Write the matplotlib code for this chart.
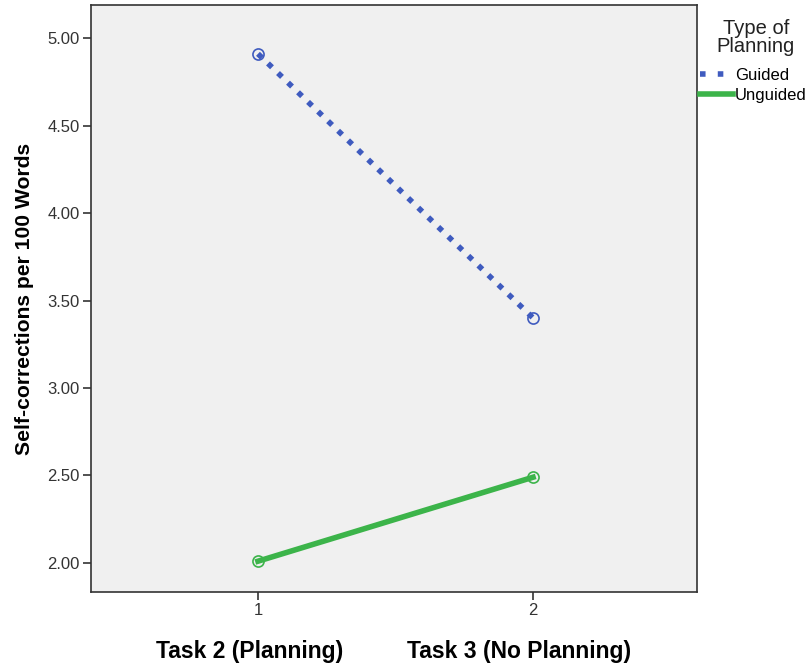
import matplotlib
matplotlib.use("Agg")
import matplotlib.pyplot as plt
from matplotlib.lines import Line2D

plt.rcParams['font.family'] = ['Liberation Sans', 'DejaVu Sans']

tasks = [1, 2]
task_tick_labels = ["1", "2"]
guided = [4.91, 3.40]
unguided = [2.01, 2.49]
y_ticks = [2.0, 2.5, 3.0, 3.5, 4.0, 4.5, 5.0]
series_names = ["Guided", "Unguided"]
legend_title = ["Type of", "Planning"]

blue = "#3f5bbf"
green = "#3cb44a"
dots = (0, (1, 1.5))

fig = plt.figure(figsize=(8.07, 6.64), dpi=100)
ax = fig.add_axes([91/807, 72/664, 606/807, 587/664])
ax.set_facecolor("#f0f0f0")

ax.plot(tasks, guided, linestyle=dots, linewidth=4, color=blue,
        marker="o", markersize=8, markerfacecolor="none", markeredgecolor=blue,
        markeredgewidth=1.2)
ax.plot(tasks, unguided, linestyle="-", linewidth=4, color=green,
        marker="o", markersize=8, markerfacecolor="none", markeredgecolor=green,
        markeredgewidth=1.2)

ax.set_xlim(0.393, 2.596)
ax.set_ylim(1.834, 5.189)
ax.set_xticks(tasks)
ax.set_xticklabels(task_tick_labels, fontsize=12)
ax.set_yticks(y_ticks)
ax.set_yticklabels([f"{v:.2f}" for v in y_ticks], fontsize=12)
ax.tick_params(axis="both", length=6, width=1.2, pad=2, color="#333333", labelcolor="#333333")
for s in ax.spines.values():
    s.set_color("#333333")
    s.set_linewidth(1.2)

ax.set_ylabel("Self-corrections per 100 Words", fontsize=15.2, fontweight="bold", labelpad=10)
ax.set_xlabel("Task 2 (Planning)          Task 3 (No Planning)", fontsize=16.5,
              fontweight="bold", labelpad=16)

# legend title (two centred lines) and entries
fig.text(756/807, 1 - 28/664, legend_title[0], ha="center", va="center",
         fontsize=14.5, color="#222222")
fig.text(756/807, 1 - 47/664, legend_title[1], ha="center", va="center",
         fontsize=14.5, color="#222222")

handles = [Line2D([], [], color=blue, linewidth=4, linestyle=(0, (1, 2.2))),
           Line2D([], [], color=green, linewidth=4, linestyle="-")]
leg = fig.legend(handles, series_names, loc="upper left",
                 bbox_to_anchor=(700/807, 1 - 68/664), frameon=False, fontsize=12,
                 handlelength=2.0, handletextpad=0.1, borderaxespad=0.0,
                 borderpad=0.0, labelspacing=0.3)

fig.savefig("out.png", dpi=100)
